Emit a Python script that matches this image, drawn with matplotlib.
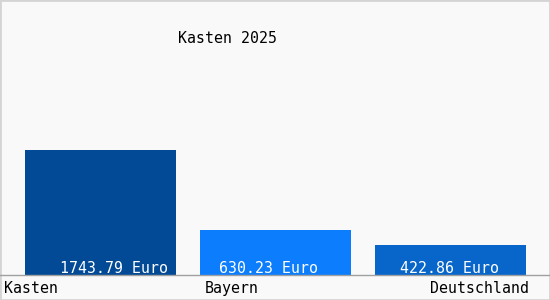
import matplotlib
matplotlib.use("Agg")
import matplotlib.pyplot as plt
from matplotlib.patches import Rectangle
from matplotlib.lines import Line2D

categories = ["Kasten", "Bayern", "Deutschland"]
values = [1743.79, 630.23, 422.86]
value_labels = ["1743.79 Euro", "630.23 Euro", "422.86 Euro"]
title = "Kasten 2025"

colors = ["#024a96", "#0b7dfd", "#0866ca"]
W, H = 550, 300
fig = plt.figure(figsize=(W / 100, H / 100), dpi=100)
fig.patch.set_facecolor("#f9f9f9")
fig.patches.append(Rectangle((0, 0), 1, 1, transform=fig.transFigure, fill=False,
                             edgecolor="#d4d4d4", linewidth=2))

FONT = "DejaVu Sans Mono"
FS = 10.7

# axes spans full width, baseline at y=275px
ax = fig.add_axes([0, 25 / H, 1, 225 / H])
ax.set_facecolor("none")
step = 175.0
c0 = 100.5
ax.set_xlim(-c0 / step, (W - c0) / step)
ax.set_ylim(0, max(values) * 225 / 125)
x = list(range(len(values)))
ax.bar(x, values, width=151 / step, color=colors, zorder=2)
for s in ax.spines.values():
    s.set_visible(False)
ax.set_xticks([])
ax.set_yticks([])

# value labels (pixel offsets from bar centre)
label_dx = [13, -7, -1]
for i, (v, lab) in enumerate(zip(values, value_labels)):
    ax.annotate(lab, (i, 0), xytext=(label_dx[i], 2), textcoords="offset pixels",
                ha="center", va="baseline", color="white", fontsize=FS, family=FONT, zorder=3)

fig.lines.append(Line2D([0, 1], [25 / H, 25 / H], transform=fig.transFigure,
                        color="#a0a0a0", linewidth=1))

# category labels
yb = 1 - 293 / H
fig.text(4 / W, yb, categories[0], ha="left", va="baseline", fontsize=FS, family=FONT, color="black")
fig.text(205 / W, yb, categories[1], ha="left", va="baseline", fontsize=FS, family=FONT, color="black")
fig.text(529 / W, yb, categories[2], ha="right", va="baseline", fontsize=FS, family=FONT, color="black")

fig.text(227 / W, 1 - 43 / H, title, ha="center", va="baseline", fontsize=FS, family=FONT, color="black")

fig.savefig("out.png", dpi=100, facecolor=fig.get_facecolor())
